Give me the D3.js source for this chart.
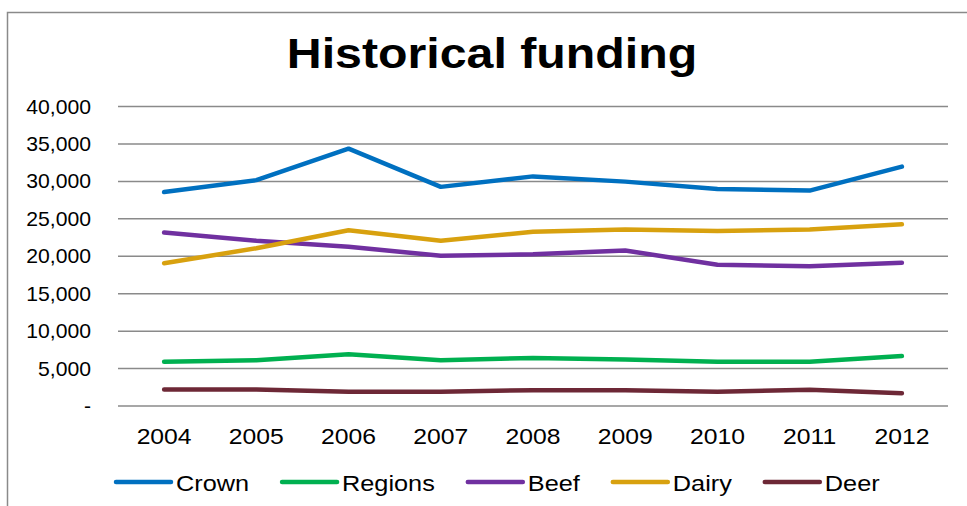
<!DOCTYPE html>
<html>
<head>
<meta charset="utf-8">
<script src="https://cdn.jsdelivr.net/npm/d3@7"></script>
<style>
  body { margin: 0; background: #fff; }
  text { font-family: 'Liberation Sans', Arial, sans-serif; fill: #000; }
</style>
</head>
<body>
<div class="svg-container"></div>
<script>
const years = ['2004', '2005', '2006', '2007', '2008', '2009', '2010', '2011', '2012']
const yTicks = [0, 5000, 10000, 15000, 20000, 25000, 30000, 35000, 40000]

const crown = [28500, 30100, 34300, 29200, 30600, 29900, 28900, 28700, 31900]
const regions = [5850, 6050, 6850, 6050, 6350, 6150, 5850, 5850, 6600]
const beef = [23100, 22000, 21200, 20000, 20200, 20700, 18800, 18600, 19050]
const dairy = [19000, 21000, 23400, 22000, 23200, 23500, 23300, 23500, 24200]
const deer = [2150, 2150, 1850, 1850, 2050, 2050, 1850, 2100, 1650]

const seriesNames = ['Crown', 'Regions', 'Beef', 'Dairy', 'Deer']
const seriesValues = [crown, regions, beef, dairy, deer]
const seriesColors = ['#0070c0', '#00b050', '#7030a0', '#d8a10f', '#6d2836']

const series = seriesNames.map((name, i) => ({ name, values: seriesValues[i], color: seriesColors[i] }))

const width = 967
const height = 506
const plot = { left: 118, right: 948, top: 106, bottom: 405.5 }
const stretch = 1.15 // text in the picture is slightly wider than the font

const svg = d3.select('.svg-container')
  .append('svg')
  .attr('width', width)
  .attr('height', height)

// outer chart frame (runs off the right and bottom edges)
svg.append('rect')
  .attr('x', 7.5)
  .attr('y', 12.5)
  .attr('width', width + 20)
  .attr('height', height + 20)
  .attr('fill', 'none')
  .attr('stroke', '#8a8a8a')
  .attr('stroke-width', 1.5)

svg.append('text')
  .attr('transform', `translate(492, 68) scale(${stretch}, 1)`)
  .attr('text-anchor', 'middle')
  .style('font-size', '42px')
  .style('font-weight', 'bold')
  .text('Historical funding')

const x = d3.scaleBand()
  .domain(years)
  .range([plot.left, plot.right])

const y = d3.scaleLinear()
  .domain([0, 40000])
  .range([plot.bottom, plot.top])

// gridlines + y labels
const yAxis = d3.axisLeft(y)
  .tickValues(yTicks)
  .tickSize(-(plot.right - plot.left))
  .tickPadding(0)
  .tickFormat(d => d === 0 ? '-' : d3.format(',')(d))

const yG = svg.append('g')
  .attr('transform', `translate(${plot.left}, 0)`)
  .call(yAxis)

yG.select('.domain').remove()
yG.selectAll('.tick line')
  .attr('stroke', '#8a8a8a')
  .attr('stroke-width', 1.5)
yG.selectAll('.tick text')
  .attr('x', null)
  .attr('dy', null)
  .attr('transform', 'translate(-27, 7) scale(1.06, 1)')
  .attr('text-anchor', 'end')
  .attr('font-family', null)
  .attr('font-size', null)
  .style('font-size', '20px')

// x labels
const xAxis = d3.axisBottom(x)
  .tickSize(0)
  .tickPadding(0)

const xG = svg.append('g')
  .attr('transform', `translate(0, ${plot.bottom})`)
  .call(xAxis)

xG.select('.domain').remove()
xG.selectAll('.tick text')
  .attr('y', null)
  .attr('dy', null)
  .attr('transform', `translate(0, 38) scale(${stretch}, 1)`)
  .attr('font-family', null)
  .attr('font-size', null)
  .style('font-size', '21.5px')

// lines
const line = d3.line()
  .x((d, i) => x(years[i]) + x.bandwidth() / 2)
  .y(d => y(d))

svg.append('g')
  .selectAll('path')
  .data(series)
  .join('path')
    .attr('d', d => line(d.values))
    .attr('fill', 'none')
    .attr('stroke', d => d.color)
    .attr('stroke-width', 4.5)
    .attr('stroke-linejoin', 'round')
    .attr('stroke-linecap', 'round')

// legend, laid out left to right
const legend = svg.append('g').classed('legend', true)
let cursor = 116
series.forEach(s => {
  const item = legend.append('g').attr('transform', `translate(${cursor}, 482)`)
  item.append('line')
    .attr('x1', 0)
    .attr('x2', 55)
    .attr('stroke', s.color)
    .attr('stroke-width', 4.5)
    .attr('stroke-linecap', 'round')
  const label = item.append('text')
    .attr('transform', `translate(60, 8.5) scale(${stretch}, 1)`)
    .style('font-size', '22px')
    .text(s.name)
  cursor += 60 + label.node().getComputedTextLength() * stretch + 33
})
</script>
</body>
</html>
